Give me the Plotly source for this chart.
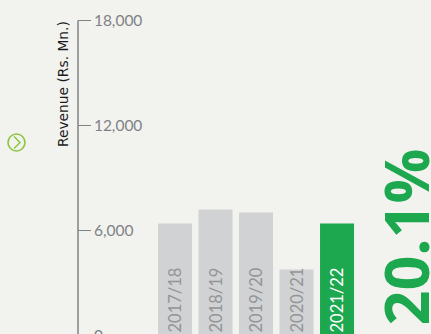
import plotly.graph_objects as go

years = ["2017/18", "2018/19", "2019/20", "2020/21", "2021/22"]
revenue = [6400, 7200, 7030, 3770, 6400]
bar_colors = ["#D1D2D4", "#D1D2D4", "#D1D2D4", "#D1D2D4", "#1DA84F"]
label_colors = ["#939598", "#939598", "#939598", "#939598", "#FFFFFF"]
y_ticks = [0, 6000, 12000, 18000]
y_tick_labels = ["0", "6,000", "12,000", "18,000"]
growth_label = "20.1%"
axis_title = "Revenue (Rs. Mn.)"

BG = "#F2F3EF"
AXIS_GREY = "#808285"
WIDTH, HEIGHT = 431, 370
LEFT, TOP, BOTTOM = 78, 5, 20
plot_w = WIDTH - LEFT
plot_h = HEIGHT - TOP - BOTTOM
PX_PER_UNIT = 105 / 6000
zero_y = 335.5


def px(x):
    return (x - LEFT) / plot_w


def py(y):
    return 1 - (y - TOP) / plot_h


fig = go.Figure(
    go.Bar(
        x=years,
        y=revenue,
        marker=dict(color=bar_colors, line_width=0),
        width=0.84,
        text=years,
        textposition="inside",
        insidetextanchor="start",
        constraintext="none",
        textangle=-90,
        insidetextfont=dict(family="Lato", size=16.5, color=label_colors),
        hoverinfo="skip",
    )
)

fig.update_layout(
    width=WIDTH,
    height=HEIGHT,
    margin=dict(l=LEFT, r=0, t=TOP, b=BOTTOM, autoexpand=False),
    paper_bgcolor=BG,
    plot_bgcolor=BG,
    showlegend=False,
    xaxis=dict(visible=False, type="category", range=[-2.395, 6.32]),
    yaxis=dict(
        range=[
            -(HEIGHT - BOTTOM - zero_y) / PX_PER_UNIT,
            (zero_y - TOP) / PX_PER_UNIT,
        ],
        tickvals=y_ticks,
        ticktext=y_tick_labels,
        ticks="inside",
        ticklen=13,
        tickwidth=1,
        tickcolor=AXIS_GREY,
        ticklabelposition="inside",
        ticklabelstandoff=3,
        tickfont=dict(family="Lato", size=15.5, color=AXIS_GREY),
        showgrid=False,
        zeroline=False,
        showline=False,
    ),
    annotations=[
        dict(
            text=axis_title,
            textangle=-90,
            x=px(63),
            y=py(84),
            xref="paper",
            yref="paper",
            xanchor="center",
            yanchor="middle",
            showarrow=False,
            font=dict(family="DejaVu Sans", size=13.8, color="#1A1A1A"),
        ),
        dict(
            text=f"<b>{growth_label}</b>",
            textangle=-90,
            x=px(404.5),
            y=py(237),
            xref="paper",
            yref="paper",
            xanchor="center",
            yanchor="middle",
            showarrow=False,
            font=dict(family="Open Sans", size=61, color="#1DA84F"),
        ),
    ],
    shapes=[
        # Vertical axis line spanning the labelled value range only
        dict(
            type="line",
            xref="paper",
            yref="y",
            x0=0,
            x1=0,
            y0=y_ticks[0],
            y1=y_ticks[-1],
            line=dict(color=AXIS_GREY, width=1.5),
        ),
        dict(
            type="circle",
            xref="paper",
            yref="paper",
            xsizemode="pixel",
            ysizemode="pixel",
            xanchor=px(16.5),
            yanchor=py(142.5),
            x0=-8.5,
            x1=8.5,
            y0=-8.5,
            y1=8.5,
            line=dict(color="#8CC63F", width=1.6),
        ),
        dict(
            type="path",
            xref="paper",
            yref="paper",
            xsizemode="pixel",
            ysizemode="pixel",
            xanchor=px(16.5),
            yanchor=py(142.5),
            path="M -2.5 -6 L 3.5 0 L -2.5 6",
            line=dict(color="#8CC63F", width=1.5),
        ),
    ],
)

fig.write_html(
    "out.html",
    config=dict(displayModeBar=False, responsive=False),
    post_script="document.documentElement.style.overflow='hidden';document.body.style.overflow='hidden';",
)
